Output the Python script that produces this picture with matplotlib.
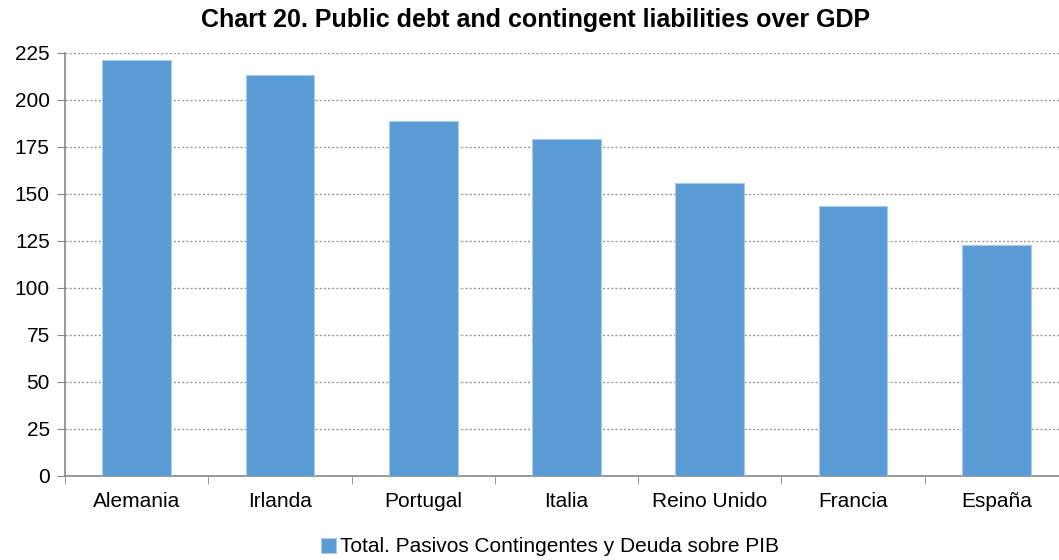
import matplotlib.pyplot as plt
import numpy as np

# Data
countries = ['Alemania', 'Irlanda', 'Portugal', 'Italia', 'Reino Unido', 'Francia', 'España']
values = [221.0, 213.0, 188.7, 179.2, 155.7, 143.6, 122.5]
y_ticks = [0, 25, 50, 75, 100, 125, 150, 175, 200, 225]
series_name = 'Total. Pasivos Contingentes y Deuda sobre PIB'
title = 'Chart 20. Public debt and contingent liabilities over GDP'

plt.rcParams['font.family'] = ['Liberation Sans', 'DejaVu Sans']

fig = plt.figure(figsize=(10.59, 5.6), dpi=100)
# axes runs slightly past the right edge, as in the original
ax = fig.add_axes([65 / 1059, 1 - 475.5 / 560, (1068 - 65) / 1059, (475.5 - 52.7) / 560])

x = np.arange(len(countries))
ax.bar(x, values, width=0.48, color='#5B9BD5', edgecolor='#A9CBEB', linewidth=0.8,
       label=series_name, zorder=3)

ax.set_xlim(-0.5, len(countries) - 0.5)
ax.set_ylim(0, 225)
ax.set_yticks(y_ticks)
ax.tick_params(axis='y', labelsize=15, length=6, color='#888888', pad=5)
ax.set_xticks(x)
ax.set_xticklabels(countries)
ax.set_xticks(np.arange(-0.5, len(countries), 1), minor=True)
ax.tick_params(axis='x', which='major', length=0, labelsize=15, pad=12)
ax.tick_params(axis='x', which='minor', length=6, color='#888888')

ax.yaxis.grid(True, linestyle=(0, (1.5, 1.5)), color='#999999', linewidth=1, zorder=0)
for s in ['top', 'right']:
    ax.spines[s].set_visible(False)
for s in ['left', 'bottom']:
    ax.spines[s].set_color('#888888')
    ax.spines[s].set_linewidth(1.2)

fig.text(536 / 1059, 1 - 20 / 560, title, ha='center', va='center',
         fontsize=18, fontweight='bold')

fig.legend(loc='center', bbox_to_anchor=(550 / 1059, 1 - 547 / 560), frameon=False,
           fontsize=15, handlelength=0.75, handleheight=0.75, handletextpad=0.2)

fig.savefig('out.png', dpi=100)
